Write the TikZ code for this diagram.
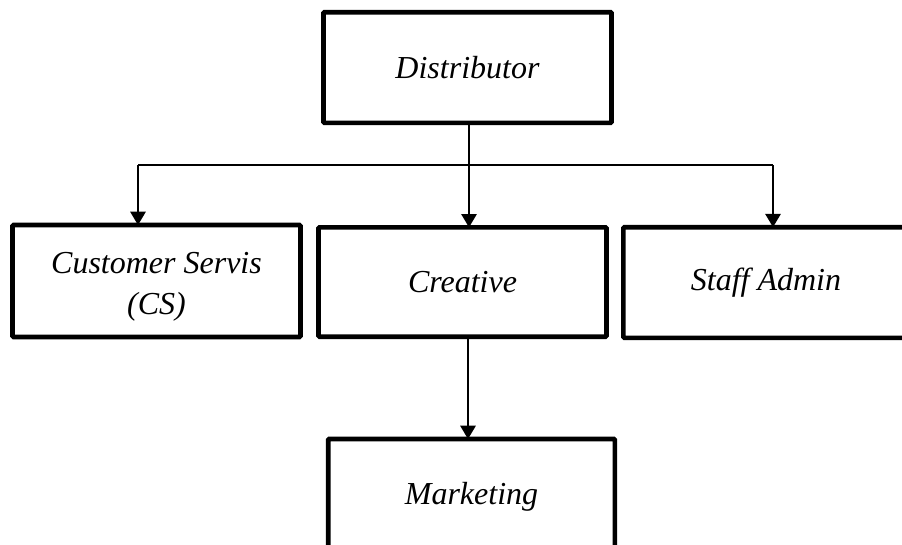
\documentclass[tikz,border=0pt]{standalone}
\usepackage{fontspec}
\setmainfont{Liberation Serif}
\usetikzlibrary{arrows.meta}
\begin{document}
\begin{tikzpicture}[x=0.75pt,y=-0.75pt,
  orgbox/.style={draw=black, line width=3.5pt, fill=white, rounded corners=0.8pt,
    inner sep=0pt, outer sep=0pt, align=center,
    font=\fontsize{24}{31}\selectfont\itshape},
  orgtext/.style={inner sep=0pt, align=center, font=\fontsize{24}{31}\selectfont\itshape},
  conn/.style={line width=1.5pt, -{Triangle[length=10pt,width=11.5pt]}},
  plain/.style={line width=1.5pt}]
\useasboundingbox (0,0) rectangle (902,544);
\clip (0,0) rectangle (902,544);
\node[orgbox, minimum width=216pt, minimum height=83pt] (dist) at (467.5,67.5) {Distributor};
\node[orgbox, minimum width=216pt, minimum height=84pt] (cs) at (156.5,281) {};
\node[orgtext] (cstext) at (156.5,287) {Customer Servis\\(CS)};
\node[orgbox, minimum width=216pt, minimum height=82pt] (cr) at (462.5,282) {Creative};
\node[orgbox, minimum width=214pt, minimum height=83pt] (sa) at (766,282.5) {Staff Admin};
\node[orgbox, minimum width=215pt, minimum height=87pt] (mk) at (471.5,497) {Marketing};
\coordinate (top) at (469,123);
\coordinate (jc) at (469,165);
\coordinate (jl) at (138,165);
\coordinate (jr) at (773,165);
\draw[plain] (top) -- (jc);
\draw[plain] (jl) -- (jr);
\draw[conn] (jl) -- (jl |- cs.north);
\draw[conn] (jc) -- (jc |- cr.north);
\draw[conn] (jr) -- (jr |- sa.north);
\coordinate (cb) at (468,337);
\draw[conn] (cb) -- (cb |- mk.north);
\end{tikzpicture}
\end{document}
